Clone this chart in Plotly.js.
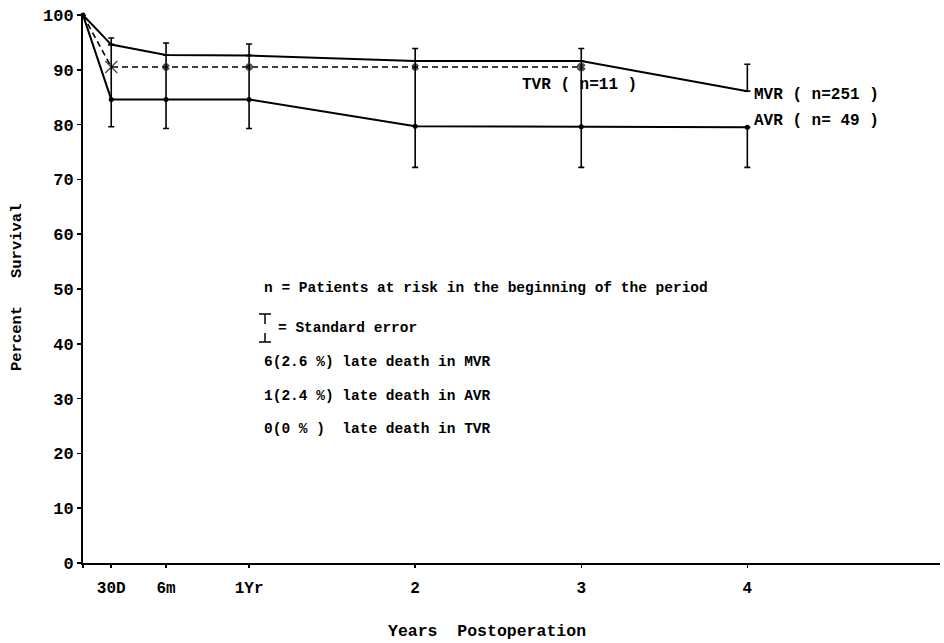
<!DOCTYPE html>
<html>
<head>
<meta charset="utf-8">
<script src="https://cdn.plot.ly/plotly-3.0.1.min.js"></script>
<style>html,body{margin:0;padding:0;background:#fff;}#chart{width:944px;height:643px;}</style>
</head>
<body>
<div id="chart"></div>
<script>
// ---- data ----
var timePoints = [0, 0.17, 0.5, 1, 2, 3, 4];          // years postoperation
var tickLabels = ['', '30D', '6m', '1Yr', '2', '3', '4'];
var mvrSurvival = [100, 94.6, 92.7, 92.6, 91.6, 91.6, 86.1];
var mvrSEup     = [null, 1.2, 2.2, 2.1, 2.3, 2.3, 4.9];
var avrSurvival = [100, 84.6, 84.6, 84.6, 79.7, 79.6, 79.5];
var avrSEdown   = [null, 5.0, 5.3, 5.3, 7.5, 7.4, 7.3];
var avrToMvr    = [null, 10.0, 8.1, 8.0, 11.9, 12.0, 0];   // connector drawn from AVR up to MVR
var tvrTime     = [0, 0.17, 0.5, 1, 2, 3];
var tvrSurvival = [100, 90.5, 90.5, 90.5, 90.5, 90.5];
var yTicks = [0, 10, 20, 30, 40, 50, 60, 70, 80, 90, 100];
var seriesLabels = ['MVR ( n=251 )', 'AVR ( n= 49 )', 'TVR ( n=11 )'];
var noteLines = [
  'n = Patients at risk in the beginning of the period',
  '= Standard error',
  '6(2.6 %) late death in MVR',
  '1(2.4 %) late death in AVR',
  '0(0 % )  late death in TVR'
];

var FONT = 'Liberation Mono, DejaVu Sans Mono, monospace';
var zeros = mvrSEup.map(function(v){ return v === null ? null : 0; });

var traces = [
  {
    x: timePoints, y: mvrSurvival, mode: 'lines', type: 'scatter',
    line: {color: '#000', width: 2},
    error_y: {type: 'data', symmetric: false, array: mvrSEup, arrayminus: zeros,
              color: '#000', thickness: 1.6, width: 3},
    cliponaxis: false, hoverinfo: 'skip'
  },
  {
    x: timePoints, y: avrSurvival, mode: 'lines+markers', type: 'scatter',
    line: {color: '#000', width: 2},
    marker: {color: '#000', size: 5},
    error_y: {type: 'data', symmetric: false, array: avrToMvr, arrayminus: avrSEdown,
              color: '#000', thickness: 1.6, width: 3},
    cliponaxis: false, hoverinfo: 'skip'
  },
  {
    x: tvrTime, y: tvrSurvival, mode: 'lines+markers', type: 'scatter',
    line: {color: '#000', width: 1.6, dash: '6px,4px'},
    marker: {color: '#000', symbol: ['circle', 'x-thin-open', 'x', 'x', 'x', 'x'],
             size: [0, 12, 5, 5, 5, 6], line: {color: '#000', width: 1.4}},
    cliponaxis: false, hoverinfo: 'skip'
  }
];

function px2x(px){ return (px - 83) / 857; }
function px2y(py){ return (563 - py) / 548; }

var annFont = {family: FONT, size: 14.5, color: '#000', weight: 'bold'};
var lblFont = {family: FONT, size: 16, color: '#000', weight: 'bold'};
var annotations = [
  {xref: 'x', yref: 'y', x: 2.63, y: 87.2, xanchor: 'left', yanchor: 'middle',
   text: seriesLabels[2], showarrow: false, font: lblFont},
  {xref: 'x', yref: 'y', x: 4.03, y: 85.4, xanchor: 'left', yanchor: 'middle',
   text: seriesLabels[0], showarrow: false, font: lblFont},
  {xref: 'x', yref: 'y', x: 4.03, y: 80.6, xanchor: 'left', yanchor: 'middle',
   text: seriesLabels[1], showarrow: false, font: lblFont},
  {xref: 'paper', yref: 'paper', x: px2x(262), y: px2y(288), xanchor: 'left', yanchor: 'middle',
   text: noteLines[0], showarrow: false, font: annFont},
  {xref: 'paper', yref: 'paper', x: px2x(276), y: px2y(328), xanchor: 'left', yanchor: 'middle',
   text: noteLines[1], showarrow: false, font: annFont},
  {xref: 'paper', yref: 'paper', x: px2x(262), y: px2y(362), xanchor: 'left', yanchor: 'middle',
   text: noteLines[2], showarrow: false, font: annFont},
  {xref: 'paper', yref: 'paper', x: px2x(262), y: px2y(396), xanchor: 'left', yanchor: 'middle',
   text: noteLines[3], showarrow: false, font: annFont},
  {xref: 'paper', yref: 'paper', x: px2x(262), y: px2y(429), xanchor: 'left', yanchor: 'middle',
   text: noteLines[4], showarrow: false, font: annFont},
  {xref: 'paper', yref: 'paper', x: px2x(17), y: px2y(288), xanchor: 'center', yanchor: 'middle',
   text: 'Percent   Survival', textangle: -90, showarrow: false,
   font: {family: FONT, size: 15.5, color: '#000', weight: 'bold'}},
  {xref: 'paper', yref: 'paper', x: px2x(487), y: px2y(631), xanchor: 'center', yanchor: 'middle',
   text: 'Years  Postoperation', showarrow: false,
   font: {family: FONT, size: 16.5, color: '#000', weight: 'bold'}}
];

var ln = {color: '#000', width: 1.5};
var shapes = [
  {type: 'line', xref: 'paper', yref: 'paper', x0: px2x(259), x1: px2x(271), y0: px2y(314), y1: px2y(314), line: ln},
  {type: 'line', xref: 'paper', yref: 'paper', x0: px2x(265), x1: px2x(265), y0: px2y(314), y1: px2y(324), line: ln},
  {type: 'line', xref: 'paper', yref: 'paper', x0: px2x(265), x1: px2x(265), y0: px2y(333), y1: px2y(342), line: ln},
  {type: 'line', xref: 'paper', yref: 'paper', x0: px2x(259), x1: px2x(271), y0: px2y(342), y1: px2y(342), line: ln}
];

var layout = {
  width: 944, height: 643,
  margin: {l: 83, r: 4, t: 15, b: 80},
  paper_bgcolor: '#fff', plot_bgcolor: '#fff',
  showlegend: false,
  font: {family: FONT, color: '#000'},
  xaxis: {
    range: [0, 5.16], showgrid: false, zeroline: false,
    showline: true, linecolor: '#000', linewidth: 2,
    tickmode: 'array', tickvals: timePoints, ticktext: tickLabels,
    ticks: 'outside', ticklen: 3, tickwidth: 1.5, tickcolor: '#000',
    ticklabelstandoff: 6,
    tickfont: {family: FONT, size: 16, color: '#000', weight: 'bold'}
  },
  yaxis: {
    range: [0, 100], showgrid: false, zeroline: false,
    showline: true, linecolor: '#000', linewidth: 2,
    tickmode: 'array', tickvals: yTicks,
    ticks: 'outside', ticklen: 4, tickwidth: 1.5, tickcolor: '#000',
    ticklabelstandoff: 0,
    tickfont: {family: FONT, size: 17, color: '#000', weight: 'bold'}
  },
  annotations: annotations,
  shapes: shapes
};

Plotly.newPlot('chart', traces, layout, {staticPlot: true, displayModeBar: false});
</script>
</body>
</html>
